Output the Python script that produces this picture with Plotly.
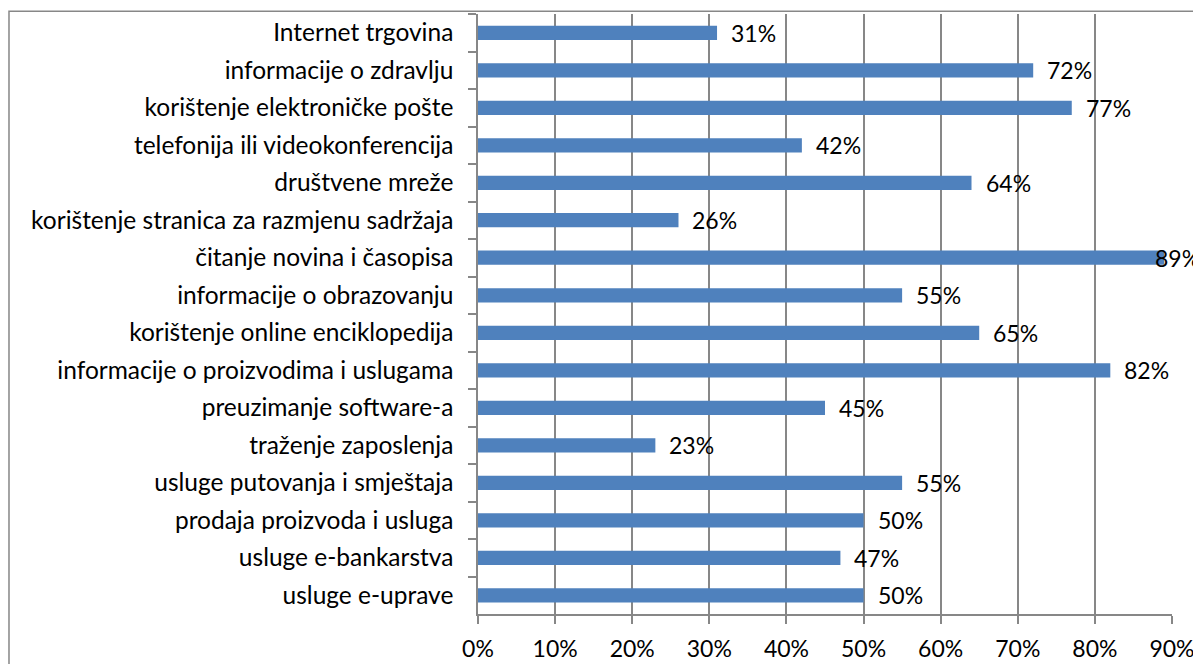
import plotly.graph_objects as go

categories = [
    "Internet trgovina",
    "informacije o zdravlju",
    "korištenje elektroničke pošte",
    "telefonija ili videokonferencija",
    "društvene mreže",
    "korištenje stranica za razmjenu sadržaja",
    "čitanje novina i časopisa",
    "informacije o obrazovanju",
    "korištenje online enciklopedija",
    "informacije o proizvodima i uslugama",
    "preuzimanje software-a",
    "traženje zaposlenja",
    "usluge putovanja i smještaja",
    "prodaja proizvoda i usluga",
    "usluge e-bankarstva",
    "usluge e-uprave",
]
values = [0.31, 0.72, 0.77, 0.42, 0.64, 0.26, 0.89, 0.55, 0.65, 0.82, 0.45, 0.23, 0.55, 0.50, 0.47, 0.50]
x_ticks = [0, 0.1, 0.2, 0.3, 0.4, 0.5, 0.6, 0.7, 0.8, 0.9]
x_tick_labels = ["0%", "10%", "20%", "30%", "40%", "50%", "60%", "70%", "80%", "90%"]

FONT = "Lato"
GRID = "#878787"
X_MAX = 0.9

fig = go.Figure()
fig.add_trace(go.Bar(
    x=values, y=categories, orientation="h",
    marker=dict(color="#4F81BD", line=dict(width=0)),
    hoverinfo="skip",
))

annotations = [
    dict(x=v, y=c, xref="x", yref="y", text=f"{round(v*100)}%",
         showarrow=False, xanchor="left", yanchor="middle",
         xshift=(12 if v < X_MAX - 0.05 else -11),
         font=dict(family=FONT, size=23, color="black"))
    for c, v in zip(categories, values)
]

# page body has an 8px default margin, so the figure is sized to fit the window
fig.update_layout(
    width=1193, height=656,
    margin=dict(l=470, r=29, t=6, b=50, autoexpand=False),
    paper_bgcolor="white", plot_bgcolor="white",
    showlegend=False,
    bargap=0.62,
    annotations=annotations,
    font=dict(family=FONT, size=23, color="black"),
    shapes=[dict(type="rect", xref="paper", yref="paper",
                 x0=-0.6758, x1=1.1, y0=-0.2, y1=1.0045,
                 line=dict(color=GRID, width=1.5), layer="below")],
)
fig.update_xaxes(
    range=[0, X_MAX], tickvals=x_ticks, ticktext=x_tick_labels,
    showgrid=True, gridcolor=GRID, gridwidth=1.5,
    showline=True, linecolor=GRID, linewidth=1.5,
    ticks="outside", ticklen=8, tickcolor=GRID, tickwidth=1.5,
    ticklabelstandoff=6, zeroline=False, automargin=False,
    tickfont=dict(family=FONT, size=23, color="black"),
)
fig.update_yaxes(
    autorange="reversed", type="category",
    showgrid=False, showline=True, linecolor=GRID, linewidth=1.5,
    ticks="outside", ticklen=8, tickcolor=GRID, tickwidth=1.5,
    tickson="boundaries", ticklabelstandoff=18, automargin=False,
    tickfont=dict(family=FONT, size=24.5, color="black"),
)

fig.write_html("out.html")
